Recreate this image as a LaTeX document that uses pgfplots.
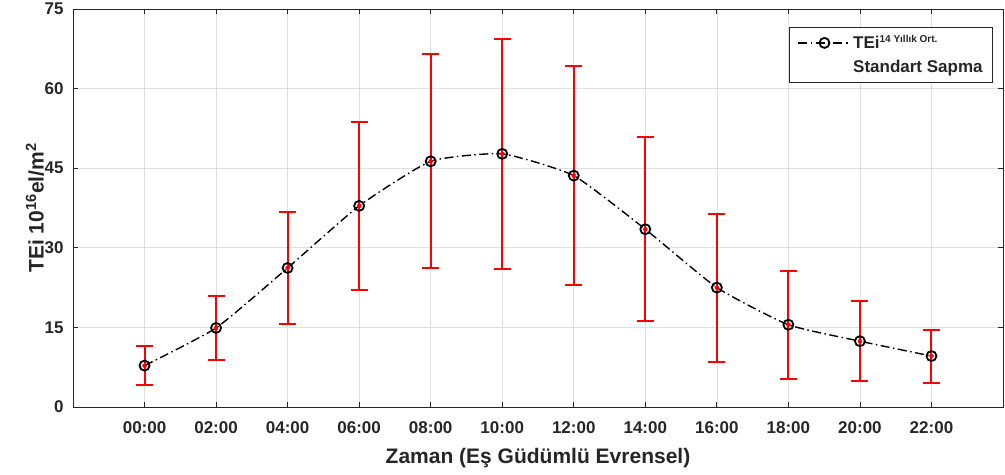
\documentclass[border=0pt]{standalone}
\usepackage{fontspec}
\setmainfont{Liberation Sans}
\usepackage{pgfplots}
\pgfplotsset{compat=1.18}
\usepackage{pgfplotstable}
\definecolor{axgray}{HTML}{262626}
\definecolor{gridgray}{HTML}{DFDFDF}
\definecolor{errred}{RGB}{255,0,0}
\pgfplotstableread{
x y e
0 7.8 3.65
2 14.9 6.05
4 26.2 10.5
6 37.9 15.8
8 46.3 20.2
10 47.7 21.7
12 43.6 20.7
14 33.5 17.3
16 22.5 13.95
18 15.5 10.15
20 12.4 7.55
22 9.6 5.0
}\data
\begin{document}
\begin{tikzpicture}
\begin{axis}[
  scale only axis, width=930pt, height=398pt,
  xmin=-2, xmax=24, ymin=0, ymax=75,
  xtick={0,2,...,22},
  xticklabels={00:00,02:00,04:00,06:00,08:00,10:00,12:00,14:00,16:00,18:00,20:00,22:00},
  ytick={0,15,...,75},
  tick align=inside, major tick length=5pt,
  tick style={axgray, line width=0.8pt},
  axis line style={axgray, line width=0.8pt},
  grid=major, grid style={gridgray, line width=0.6pt},
  /pgf/number format/assume math mode=true,
  tick label style={font=\fontsize{17}{20}\selectfont\bfseries, text=axgray},
  xticklabel style={yshift=-11pt},
  yticklabel style={xshift=-6pt},
  label style={font=\fontsize{21}{24}\selectfont\bfseries, text=axgray},
  xlabel={Zaman (Eş Güdümlü Evrensel)},
  ylabel={TEi 10\textsuperscript{16}el/m\textsuperscript{2}},
  xlabel style={at={(axis description cs:0.5,-0.128)}, anchor=center},
  ylabel style={at={(axis description cs:-0.0409,0.5)}, anchor=center},
  legend style={at={(1,1)}, anchor=north east, xshift=-10pt, yshift=-18pt,
    draw=axgray, line width=0.8pt, font=\fontsize{17}{20}\selectfont\bfseries,
    text=axgray, inner xsep=8pt, inner ysep=6pt, row sep=6pt},
  legend cell align=left,
  legend image code/.code={\draw[mark repeat=2,mark phase=2,#1] plot coordinates {(0pt,0pt) (26pt,0pt) (52pt,0pt)};},
]
\addplot[color=errred, draw=errred, only marks, mark=none, forget plot,
  error bars/.cd, y dir=both, y explicit,
  error bar style={color=errred, draw=errred, line width=2pt, solid},
  error mark options={color=errred, draw=errred, line width=2pt, mark size=8.5pt, rotate=90}]
  table[x=x, y=y, y error=e] {\data};
\addplot[black, line width=1.4pt, smooth, tension=0.3,
  dash pattern=on 9pt off 3.5pt on 1.5pt off 3.5pt,
  mark=o, mark size=5pt, mark options={solid, line width=1.8pt}]
  table[x=x, y=y] {\data};
\addlegendentry{TEi\textsuperscript{\fontsize{10}{10}\selectfont 14 Yıllık Ort.}}
\addlegendimage{empty legend}
\addlegendentry{Standart Sapma}
\end{axis}
\pgfresetboundingbox
\path ([shift={(-73pt,-68pt)}]current axis.south west) rectangle ([shift={(2pt,9pt)}]current axis.north east);
\end{tikzpicture}
\end{document}
